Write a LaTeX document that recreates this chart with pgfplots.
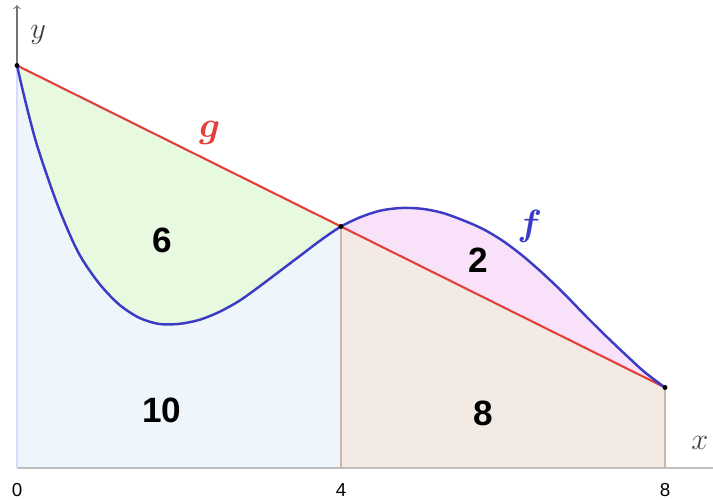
\documentclass[border=0pt]{standalone}
\usepackage{fontspec}
\usepackage{amsmath}
\usepackage{pgfplots}
\usepackage{pgfplotstable}
\pgfplotsset{compat=1.18}
\newfontfamily\arial{Liberation Sans}

\definecolor{fblue}{HTML}{3B3BC6}
\definecolor{gred}{HTML}{E2403A}
\definecolor{fillA}{HTML}{EEF6FC}
\definecolor{fillB}{HTML}{E7F9DF}
\definecolor{fillC}{HTML}{F9E1F9}
\definecolor{fillD}{HTML}{F4EAE4}
\definecolor{edge}{HTML}{C9B8B2}

% curve f
\pgfplotstableread{
x y
0    5
0.1  4.57
0.25 4.0
0.5  3.27
0.75 2.69
1.0  2.31
1.25 2.04
1.5  1.87
1.75 1.79
2.0  1.79
2.25 1.84
2.5  1.94
2.75 2.08
3.0  2.26
3.25 2.45
3.5  2.64
3.75 2.83
4.0  3.0
4.25 3.12
4.5  3.20
4.75 3.23
5.0  3.22
5.25 3.17
5.5  3.08
5.75 2.97
6.0  2.82
6.25 2.63
6.5  2.41
6.75 2.17
7.0  1.91
7.25 1.66
7.5  1.42
7.75 1.19
8.0  1.0
}\fdata

% line g
\pgfplotstableread{
x y
0 5
4 3
8 1
}\gdata

\begin{document}
\begin{tikzpicture}
\begin{axis}[
    x=1.62cm, y=1.61cm,
    xmin=-0.2099, xmax=8.5926,
    ymin=-0.3975, ymax=5.8137,
    axis x line=middle, axis y line=none,
    x axis line style={draw=none},
    hide obscured x ticks=false,
    xtick={0,4,8}, ytick=\empty,
    major tick length=0pt,
    /pgf/number format/assume math mode=true,
    xticklabel style={font=\arial\fontsize{10.7}{12}\selectfont, yshift=-5.5pt},
    clip=false,
]

% fills: green = under g, then blue = under f on top (left half)
\addplot[fill=fillB, draw=none, restrict x to domain=0:4] table {\gdata} \closedcycle;
\addplot[fill=fillA, draw=none, smooth, restrict x to domain=0:4] table {\fdata} \closedcycle;
% pink = under f, then tan = under g on top (right half)
\addplot[fill=fillC, draw=none, smooth, restrict x to domain=4:8] table {\fdata} \closedcycle;
\addplot[fill=fillD, draw=none, restrict x to domain=4:8] table {\gdata} \closedcycle;

% axes and edges
\draw[color=black!25, line width=0.6pt] (axis cs:0,0) -- (axis cs:8.5926,0);
\draw[color=black!55, line width=0.6pt, ->] (axis cs:0,5) -- (axis cs:0,5.75);
\draw[color=blue!15, line width=0.6pt] (axis cs:0,0) -- (axis cs:0,5);
\draw[color=edge, line width=0.6pt] (axis cs:4,0) -- (axis cs:4,3);
\draw[color=edge, line width=0.6pt] (axis cs:8,0) -- (axis cs:8,1);

\addplot[gred, line width=1.2pt] table {\gdata};
\addplot[fblue, line width=1.4pt, smooth] table {\fdata};

\fill (axis cs:0,5) circle (1.4pt);
\fill (axis cs:4,3) circle (1.4pt);
\fill (axis cs:8,1) circle (1.4pt);

% labels
\node[black!75, font=\fontsize{18}{20}\selectfont] at (axis cs:0.26,5.38) {$y$};
\node[black!75, font=\fontsize{18}{20}\selectfont] at (axis cs:8.43,0.31) {$x$};
\node[gred, font=\fontsize{21}{24}\selectfont] at (axis cs:2.38,4.16) {$\boldsymbol{g}$};
\node[fblue, font=\fontsize{21}{24}\selectfont] at (axis cs:6.33,3.0) {$\boldsymbol{f}$};

\node[font=\arial\bfseries\fontsize{20}{24}\selectfont] at (axis cs:1.79,2.83) {6};
\node[font=\arial\bfseries\fontsize{20}{24}\selectfont] at (axis cs:1.79,0.71) {10};
\node[font=\arial\bfseries\fontsize{20}{24}\selectfont] at (axis cs:5.70,2.58) {2};
\node[font=\arial\bfseries\fontsize{20}{24}\selectfont] at (axis cs:5.76,0.68) {8};

\coordinate (bl) at (axis cs:-0.2099,-0.3975);
\coordinate (tr) at (axis cs:8.5926,5.8137);
\end{axis}
\pgfresetboundingbox
\useasboundingbox (bl) rectangle (tr);
\end{tikzpicture}
\end{document}
